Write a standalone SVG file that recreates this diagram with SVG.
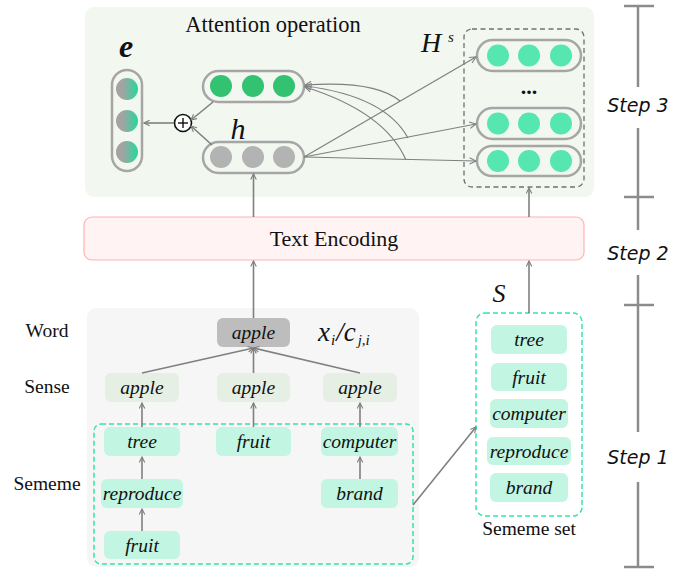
<svg xmlns="http://www.w3.org/2000/svg" width="697" height="569" viewBox="0 0 697 569">
<style>
text{fill:#111}
.it{font-style:italic}
.step{font-style:italic;font-size:19px}
.pill{fill:none;stroke:#a6a6a6;stroke-width:2.5}
.conn{fill:none;stroke:#808080;stroke-width:1.6}
.thin{fill:none;stroke:#808080;stroke-width:1.2}
.sem{fill:#c2f5e2}
.sense{fill:#e6efe3}
.bar{stroke:#8c8c8c;stroke-width:2.5;fill:none}
.node{font-size:19.5px}
.lab{font-size:19.5px}
</style>
<defs>
<marker id="arr" viewBox="0 0 10 10" refX="9" refY="5" markerWidth="7" markerHeight="7" orient="auto" markerUnits="userSpaceOnUse">
<path d="M1,1 L9,5 L1,9" fill="none" stroke="#808080" stroke-width="1.6"/>
</marker>
<marker id="arrs" viewBox="0 0 10 10" refX="9" refY="5" markerWidth="8" markerHeight="8" orient="auto" markerUnits="userSpaceOnUse">
<path d="M1,1 L9,5 L1,9" fill="none" stroke="#808080" stroke-width="1.4"/>
</marker>
<linearGradient id="eg" x1="0" y1="0" x2="1" y2="0">
<stop offset="0.3" stop-color="#a3a3a3"/>
<stop offset="1" stop-color="#24d89a"/>
</linearGradient>
</defs>

<!-- panels -->
<rect id="attention-panel" x="85" y="7" width="509" height="190" rx="9" fill="#f2f7f0"/>
<rect id="sememe-panel" x="87" y="308" width="332" height="259" rx="9" fill="#f6f6f6"/>

<g font-family="Liberation Serif, Times New Roman, DejaVu Serif, serif">
<text x="273" y="32" font-size="22.5" text-anchor="middle">Attention operation</text>

<!-- e vector -->
<g id="e-vector">
<text class="it" x="126" y="57" font-size="32" font-weight="bold" text-anchor="middle">e</text>
<rect class="pill" x="112" y="70" width="30" height="101" rx="15"/>
<circle cx="127" cy="89" r="11" fill="url(#eg)"/>
<circle cx="127" cy="121" r="11" fill="url(#eg)"/>
<circle cx="127" cy="152" r="11" fill="url(#eg)"/>
</g>

<!-- plus -->
<g id="plus">
<circle cx="183" cy="123" r="8.5" fill="#fff" stroke="#111" stroke-width="1.6"/>
<line x1="178" y1="123" x2="188" y2="123" stroke="#111" stroke-width="1.4"/>
<line x1="183" y1="118" x2="183" y2="128" stroke="#111" stroke-width="1.4"/>
</g>

<!-- green vector -->
<g id="attn-vector">
<rect class="pill" x="203" y="71" width="101" height="31" rx="15.5"/>
<circle cx="221" cy="86" r="11" fill="#33c172"/>
<circle cx="253" cy="86" r="11" fill="#33c172"/>
<circle cx="284" cy="86" r="11" fill="#33c172"/>
</g>

<!-- h vector -->
<g id="h-vector">
<text class="it" x="238" y="139" font-size="30" text-anchor="middle">h</text>
<rect class="pill" x="203" y="142" width="101" height="31" rx="15.5"/>
<circle cx="221" cy="157" r="11" fill="#b3b3b3"/>
<circle cx="253" cy="157" r="11" fill="#b3b3b3"/>
<circle cx="284" cy="157" r="11" fill="#b3b3b3"/>
</g>

<!-- Hs -->
<g id="Hs">
<text class="it" x="421" y="52" font-size="28">H</text>
<text class="it" x="448" y="42" font-size="15">s</text>
<rect x="464" y="29" width="120" height="158" rx="8" fill="none" stroke="#707070" stroke-width="1.3" stroke-dasharray="5,3.5"/>
<rect class="pill" x="477" y="40" width="104" height="31" rx="15.5"/>
<circle cx="498" cy="55.5" r="11" fill="#55e6b1"/>
<circle cx="529" cy="55.5" r="11" fill="#55e6b1"/>
<circle cx="561" cy="55.5" r="11" fill="#55e6b1"/>
<text x="529" y="94" font-size="22" font-weight="bold" text-anchor="middle">...</text>
<rect class="pill" x="477" y="108" width="104" height="31" rx="15.5"/>
<circle cx="498" cy="123.5" r="11" fill="#55e6b1"/>
<circle cx="529" cy="123.5" r="11" fill="#55e6b1"/>
<circle cx="561" cy="123.5" r="11" fill="#55e6b1"/>
<rect class="pill" x="477" y="146" width="104" height="30" rx="15"/>
<circle cx="498" cy="161" r="11" fill="#55e6b1"/>
<circle cx="529" cy="161" r="11" fill="#55e6b1"/>
<circle cx="561" cy="161" r="11" fill="#55e6b1"/>
</g>

<!-- Text Encoding -->
<g id="text-encoding">
<rect x="84" y="217" width="500" height="43" rx="8" fill="#fff3f4" stroke="#ffb3b5" stroke-width="1.2"/>
<text x="334" y="246" font-size="22" text-anchor="middle">Text Encoding</text>
</g>

<!-- Row labels -->
<text class="lab" x="47" y="337" text-anchor="middle">Word</text>
<text class="lab" x="47" y="393" text-anchor="middle">Sense</text>
<text class="lab" x="47" y="490" text-anchor="middle">Sememe</text>

<!-- Word node -->
<g id="word-apple">
<rect x="217" y="318" width="73" height="29" rx="6" fill="#bdbdbd"/>
<text class="it node" x="253.5" y="339" text-anchor="middle">apple</text>
</g>
<g id="xi-label">
<text class="it" x="318" y="341" font-size="27">x<tspan font-size="15" dy="4" dx="1">i</tspan><tspan dy="-4" dx="1">/c</tspan><tspan font-size="15" dy="4" dx="2">j,i</tspan></text>
</g>

<!-- Sense nodes -->
<g id="sense1"><rect class="sense" x="105" y="373" width="74" height="29" rx="6"/><text class="it node" x="142" y="394" text-anchor="middle">apple</text></g>
<g id="sense2"><rect class="sense" x="217" y="373" width="73" height="29" rx="6"/><text class="it node" x="253.5" y="394" text-anchor="middle">apple</text></g>
<g id="sense3"><rect class="sense" x="323" y="373" width="74" height="29" rx="6"/><text class="it node" x="360" y="394" text-anchor="middle">apple</text></g>

<!-- Sememe dashed group -->
<rect id="sememe-group" x="94" y="424" width="319" height="140" rx="7" fill="none" stroke="#33e6a8" stroke-width="1.5" stroke-dasharray="5,3"/>

<g id="sem-tree"><rect class="sem" x="104" y="427" width="76" height="29" rx="6"/><text class="it node" x="142" y="448" text-anchor="middle">tree</text></g>
<g id="sem-fruit1"><rect class="sem" x="216" y="427" width="75" height="29" rx="6"/><text class="it node" x="253.5" y="448" text-anchor="middle">fruit</text></g>
<g id="sem-computer"><rect class="sem" x="321" y="427" width="77" height="29" rx="6"/><text class="it node" x="359.5" y="448" text-anchor="middle">computer</text></g>
<g id="sem-reproduce"><rect class="sem" x="101" y="479" width="82" height="29" rx="6"/><text class="it node" x="142" y="500" text-anchor="middle">reproduce</text></g>
<g id="sem-brand"><rect class="sem" x="321" y="479" width="77" height="29" rx="6"/><text class="it node" x="359.5" y="500" text-anchor="middle">brand</text></g>
<g id="sem-fruit2"><rect class="sem" x="104" y="531" width="76" height="28" rx="6"/><text class="it node" x="142" y="552" text-anchor="middle">fruit</text></g>

<!-- Sememe set -->
<g id="sememe-set">
<text class="it" x="499" y="302" font-size="26" text-anchor="middle">S</text>
<rect x="476" y="313" width="106" height="203" rx="9" fill="none" stroke="#33e6a8" stroke-width="1.5" stroke-dasharray="5,3"/>
<rect class="sem" x="491" y="325" width="76" height="29" rx="6"/><text class="it node" x="529" y="346" text-anchor="middle">tree</text>
<rect class="sem" x="491" y="363" width="76" height="28" rx="6"/><text class="it node" x="529" y="383.5" text-anchor="middle">fruit</text>
<rect class="sem" x="490" y="399" width="78" height="29" rx="6"/><text class="it node" x="529" y="420" text-anchor="middle">computer</text>
<rect class="sem" x="487" y="437" width="84" height="28" rx="6"/><text class="it node" x="529" y="457.5" text-anchor="middle">reproduce</text>
<rect class="sem" x="490" y="473" width="78" height="29" rx="6"/><text class="it node" x="529" y="494" text-anchor="middle">brand</text>
<text x="529" y="535" font-size="19.5" text-anchor="middle">Sememe set</text>
</g>
</g>

<!-- Step bars -->
<g id="steps" font-family="Comic Sans MS, DejaVu Sans, sans-serif">
<line class="bar" x1="638" y1="6" x2="638" y2="87"/>
<line class="bar" x1="638" y1="128" x2="638" y2="230"/>
<line class="bar" x1="638" y1="275" x2="638" y2="432"/>
<line class="bar" x1="638" y1="482" x2="638" y2="567"/>
<line class="bar" x1="624" y1="6" x2="654" y2="6"/>
<line class="bar" x1="624" y1="197" x2="654" y2="197"/>
<line class="bar" x1="624" y1="305" x2="654" y2="305"/>
<line class="bar" x1="624" y1="567" x2="654" y2="567"/>
<text class="step" x="638" y="112" text-anchor="middle">Step 3</text>
<text class="step" x="638" y="260" text-anchor="middle">Step 2</text>
<text class="step" x="638" y="464" text-anchor="middle">Step 1</text>
</g>

<!-- connectors -->
<g id="connectors">
<line class="conn" x1="142" y1="427" x2="142" y2="403" marker-end="url(#arr)"/>
<line class="conn" x1="253.5" y1="427" x2="253.5" y2="403" marker-end="url(#arr)"/>
<line class="conn" x1="360" y1="427" x2="360" y2="403" marker-end="url(#arr)"/>
<line class="conn" x1="142" y1="479" x2="142" y2="457" marker-end="url(#arr)"/>
<line class="conn" x1="142" y1="531" x2="142" y2="509" marker-end="url(#arr)"/>
<line class="conn" x1="360" y1="479" x2="360" y2="457" marker-end="url(#arr)"/>
<line class="conn" x1="142" y1="373" x2="253.5" y2="348" marker-end="url(#arr)"/>
<line class="conn" x1="253.5" y1="373" x2="253.5" y2="348" marker-end="url(#arr)"/>
<line class="conn" x1="360" y1="373" x2="253.5" y2="348" marker-end="url(#arr)"/>
<line class="conn" x1="253.5" y1="318" x2="253.5" y2="261" marker-end="url(#arr)"/>
<line class="conn" x1="253.5" y1="217" x2="253.5" y2="174" marker-end="url(#arr)"/>
<line class="conn" x1="529" y1="313" x2="529" y2="261" marker-end="url(#arr)"/>
<line class="conn" x1="529" y1="217" x2="529" y2="188" marker-end="url(#arr)"/>
<line class="conn" x1="413" y1="505" x2="476" y2="427" marker-end="url(#arr)"/>
<line class="conn" x1="213" y1="102" x2="191" y2="120" marker-end="url(#arr)"/>
<line class="conn" x1="212" y1="145" x2="191" y2="126" marker-end="url(#arr)"/>
<line class="conn" x1="174" y1="123" x2="144" y2="123" marker-end="url(#arr)"/>
<line class="thin" x1="304" y1="157" x2="476" y2="57" marker-end="url(#arrs)"/>
<line class="thin" x1="304" y1="157" x2="476" y2="124" marker-end="url(#arrs)"/>
<line class="thin" x1="304" y1="157" x2="476" y2="161" marker-end="url(#arrs)"/>
<path class="thin" d="M400,101 Q375,80 305,85" marker-end="url(#arrs)"/>
<path class="thin" d="M408,138 Q385,96 305,86" marker-end="url(#arrs)"/>
<path class="thin" d="M406,160 Q385,112 305,87" marker-end="url(#arrs)"/>
</g>
</svg>
